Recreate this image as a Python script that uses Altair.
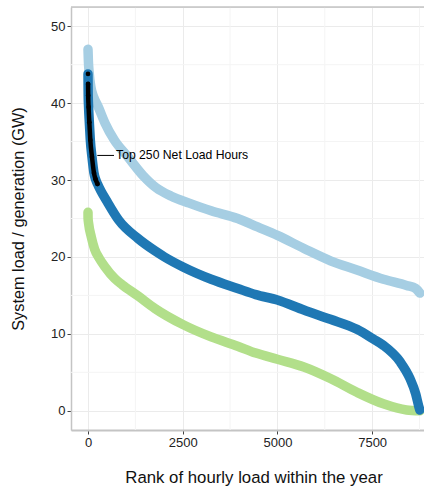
import altair as alt
import pandas as pd

# ---- data ----
load_rank = [0, 10, 30, 80, 150, 272, 450, 694, 1055, 1450, 1800, 2200, 2671, 3250,
             3950, 4476, 5000, 5700, 6400, 7100, 7800, 8409, 8650, 8760]
load_gw = [47.0, 45.5, 44.0, 42.0, 40.8, 39.5, 37.4, 35.2, 33.0, 30.6, 29.0, 27.9, 27.0, 26.0,
           25.0, 23.9, 22.8, 21.1, 19.5, 18.3, 17.1, 16.3, 15.9, 15.3]

net_rank = [0, 2, 5, 15, 35, 61, 105, 158, 200, 250, 527, 808, 1320, 1766, 2020, 2509,
            3252, 3951, 4430, 5000, 5699, 6399, 7098, 7542, 7797, 8234, 8497, 8650, 8730, 8760]
net_gw = [43.8, 42.5, 41.0, 39.5, 37.5, 35.2, 33.0, 30.9, 30.1, 29.5, 27.0, 24.8, 22.4, 20.8, 20.0, 18.7,
          17.1, 15.9, 15.1, 14.4, 13.1, 11.9, 10.6, 9.3, 8.5, 6.4, 4.2, 2.2, 0.6, 0.1]

gen_rank = [0, 2, 15, 87, 175, 300, 450, 702, 900, 1329, 1766, 2509, 3252, 3951, 4430,
            5000, 5699, 6399, 7098, 7797, 8409, 8760]
gen_gw = [25.8, 25.0, 24.4, 22.6, 21.0, 19.8, 18.7, 17.2, 16.4, 14.9, 13.3, 11.2, 9.6, 8.4, 7.5,
          6.7, 5.7, 4.2, 2.4, 0.9, 0.1, 0.0]

top_rank = [0, 2, 5, 15, 35, 61, 105, 158, 200, 250]
top_gw = [43.8, 42.5, 41.0, 39.5, 37.5, 35.2, 33.0, 30.9, 30.1, 29.5]
top_seg = [0, 1, 1, 1, 1, 1, 1, 1, 1, 1]

x_major = [0, 2500, 5000, 7500]
x_minor = [1250, 3750, 6250, 8750]
y_major = [0, 10, 20, 30, 40, 50]
y_minor = [5, 15, 25, 35, 45]

annot_text = "Top 250 Net Load Hours"
annot_y = 33.2
annot_x0, annot_x1, annot_tx = 245, 686, 740

FONT = "Liberation Sans"
C_LOAD, C_NET, C_GEN = "#a6cee3", "#1f78b4", "#b2df8a"

rows = []
for s, rr, vv in (("load", load_rank, load_gw), ("net", net_rank, net_gw), ("gen", gen_rank, gen_gw)):
    for r, v in zip(rr, vv):
        rows.append({"series": s, "rank": r, "gw": v, "seg": 0})
for r, v, g in zip(top_rank, top_gw, top_seg):
    rows.append({"series": "top", "rank": r, "gw": v, "seg": g})
df = pd.DataFrame(rows)

xs = alt.Scale(domain=[-449, 8869], nice=False, zero=False)
ys = alt.Scale(domain=[-2.5, 52.5], nice=False, zero=False)

X = alt.X("rank:Q", scale=xs,
          axis=alt.Axis(values=x_major, format="d", title="Rank of hourly load within the year",
                        grid=True, gridColor="#ebebeb", gridWidth=1,
                        domainColor="#c4c4c4", domainWidth=2,
                        tickColor="#444", tickSize=4, tickWidth=1,
                        labelFont=FONT, labelFontSize=13, labelColor="#222", labelPadding=2,
                        titleFont=FONT, titleFontSize=16.8, titleFontWeight="normal",
                        titleColor="#111", titlePadding=20, titleX=182.5))
Y = alt.Y("gw:Q", scale=ys,
          axis=alt.Axis(values=y_major, format="d", title="System load / generation (GW)",
                        grid=True, gridColor="#ebebeb", gridWidth=1,
                        domainColor="#c4c4c4", domainWidth=1.5,
                        tickColor="#444", tickSize=4, tickWidth=1,
                        labelFont=FONT, labelFontSize=13, labelColor="#222", labelPadding=2,
                        titleFont=FONT, titleFontSize=16.3, titleFontWeight="normal",
                        titleColor="#111", titlePadding=24))

base = alt.Chart(df).encode(x=X, y=Y)

xminor = alt.Chart(pd.DataFrame({"v": x_minor})).mark_rule(color="#f4f4f4", strokeWidth=1).encode(
    x=alt.X("v:Q", scale=xs))
yminor = alt.Chart(pd.DataFrame({"v": y_minor})).mark_rule(color="#f4f4f4", strokeWidth=1).encode(
    y=alt.Y("v:Q", scale=ys))
top_border = alt.Chart(pd.DataFrame({"v": [0]})).mark_rule(color="#c4c4c4", strokeWidth=1.5).encode(
    y=alt.value(0), x=alt.value(0), x2=alt.value(353))

line_kw = dict(strokeWidth=9.5, strokeCap="round", strokeJoin="round", interpolate="monotone")
load_l = base.transform_filter(alt.datum.series == "load").mark_line(color=C_LOAD, **line_kw)
gen_l = base.transform_filter(alt.datum.series == "gen").mark_line(color=C_GEN, **line_kw)
net_l = base.transform_filter(alt.datum.series == "net").mark_line(color=C_NET, **line_kw)
top_l = base.transform_filter((alt.datum.series == "top") & (alt.datum.seg == 1)).mark_line(
    color="black", strokeWidth=4.5, strokeCap="round", strokeJoin="round", interpolate="monotone")
top_p = base.transform_filter(alt.datum.series == "top").mark_circle(color="black", size=22, opacity=1)

ann = pd.DataFrame({"x0": [annot_x0], "x1": [annot_x1], "tx": [annot_tx], "y": [annot_y], "t": [annot_text]})
ann_rule = alt.Chart(ann).mark_rule(color="black", strokeWidth=1).encode(
    x=alt.X("x0:Q", scale=xs), x2="x1:Q", y=alt.Y("y:Q", scale=ys))
ann_text = alt.Chart(ann).mark_text(align="left", baseline="middle", font=FONT, fontSize=12.2,
                                    color="black").encode(
    x=alt.X("tx:Q", scale=xs), y=alt.Y("y:Q", scale=ys), text="t:N")

chart = alt.layer(xminor, yminor, load_l, gen_l, net_l, top_l, top_p, ann_rule, ann_text, top_border).properties(
    width=353, height=423,
    autosize=alt.AutoSizeParams(type="none"),
    padding={"left": 71, "top": 7, "right": 0, "bottom": 57},
).configure_view(stroke=None).configure(background="white")

chart.save("out.html", embed_options={"renderer": "svg", "actions": False})
